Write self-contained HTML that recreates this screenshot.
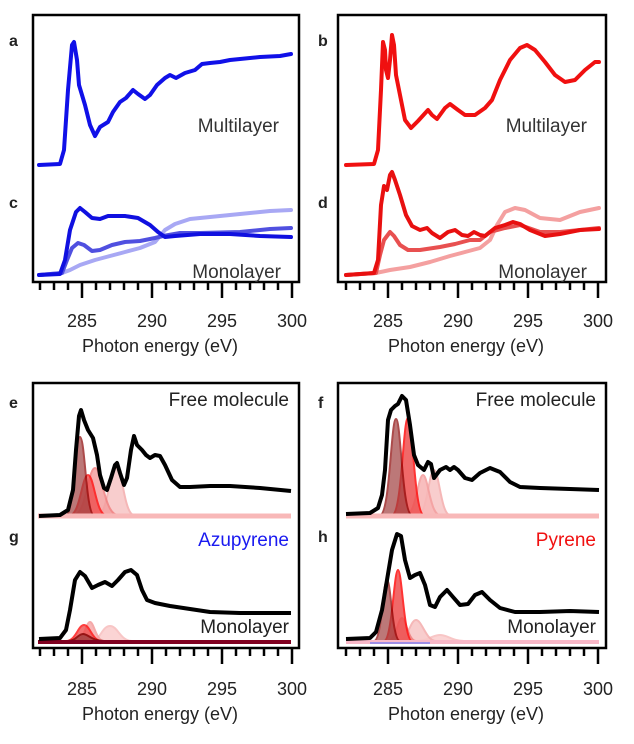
<!DOCTYPE html>
<html><head><meta charset="utf-8"><style>
html,body{margin:0;padding:0;background:#fff}
svg{display:block}
text{font-family:"Liberation Sans",Arial,sans-serif}
</style></head><body>
<svg width="634" height="744" viewBox="0 0 634 744" xmlns="http://www.w3.org/2000/svg">
<defs>
<g id="ticks" stroke="#000" stroke-width="2.5">
<path d="M40,0v8M54,0v8M68,0v8M96,0v8M110,0v8M124,0v8M138,0v8M166,0v8M180,0v8M194,0v8M208,0v8M236,0v8M250,0v8M264,0v8M278,0v8"/>
<path d="M82,0v16M152,0v16M222,0v16M292,0v16"/>
</g>
<g id="tl" font-size="18" fill="#222" text-anchor="middle">
<text x="82" y="0">285</text><text x="152" y="0">290</text><text x="222" y="0">295</text><text x="292" y="0">300</text>
<text x="160" y="25">Photon energy (eV)</text>
</g>
</defs>

<g fill="none" stroke-linejoin="round" stroke-linecap="round">
<polyline stroke="#1010e8" stroke-width="4" points="39,165 60,164 64,150 68,90 72,45 74,42 77,60 79,85 85,105 90,125 95,136 100,127 108,122 113,112 120,102 126,98 133,90 138,94 145,99 150,95 157,85 165,78 170,75 176,78 185,73 195,70 202,64 210,63 220,62 230,60 240,59 260,57 280,56 291,54"/>
<polyline stroke="#a8a8f4" stroke-width="4" points="39,275 62,273 70,270 80,265 95,260 110,256 125,252 140,248 155,242 165,230 175,224 190,219 210,217 240,214 270,211 291,210"/>
<polyline stroke="#5050e0" stroke-width="4" points="39,275 62,273 67,260 72,248 78,243 84,245 92,251 100,250 112,245 125,242 140,241 155,238 163,236 180,233 200,233 240,232 270,229 291,228"/>
<polyline stroke="#1010e0" stroke-width="4" points="39,275 60,274 65,260 70,230 76,212 80,208 85,212 92,218 100,219 108,216 115,216 125,216 138,218 150,225 158,232 165,237 175,236 200,234 230,234 260,236 291,237"/>
<polyline stroke="#f01010" stroke-width="4" points="346,165 374,164 378,150 381,90 383,42 385,50 386,70 388,78 390,60 392,35 394,45 396,75 400,95 405,120 411,128 418,121 428,110 432,115 437,119 445,108 450,104 458,110 465,115 475,115 485,108 492,100 500,80 510,60 520,48 527,45 535,50 545,62 555,75 565,82 575,80 585,70 595,62 599,62"/>
<polyline stroke="#f4a0a0" stroke-width="4" points="346,275 376,273 390,270 410,267 430,262 450,256 465,252 480,248 490,240 497,225 505,212 515,208 525,210 540,218 560,220 580,212 599,208"/>
<polyline stroke="#e85050" stroke-width="4" points="346,275 376,273 380,255 384,240 390,232 394,236 400,245 408,250 420,250 440,247 455,244 470,240 480,240 490,232 505,228 520,225 540,232 560,232 580,230 599,228"/>
<polyline stroke="#e81010" stroke-width="4" points="346,275 374,273 378,260 381,205 384,186 387,190 390,175 392,172 395,180 400,195 406,215 412,226 420,230 427,228 432,233 440,238 448,232 455,230 462,235 468,236 474,232 480,235 485,236 495,228 505,225 513,222 520,224 530,230 545,236 560,234 580,230 599,229"/>
</g>

<g stroke-width="2">
<path d="M98,515 C108,515 110,465 116,465 C122,465 124,515 134,515Z" fill="#f8c8c8" stroke="#f4b0b0" opacity="0.9"/>
<path d="M74,515 C86,515 88,468 95,468 C102,468 104,515 118,515Z" fill="#f4a0a0" stroke="#f08080" opacity="0.85"/>
<path d="M70,515 C80,515 82,475 88,475 C94,475 96,515 106,515Z" fill="#ee5050" stroke="#ff1010" opacity="0.8"/>
<path d="M66,515 C74,515 75,437 80,437 C85,437 86,515 94,515Z" fill="#a04040" stroke="#8a0000" opacity="0.7"/>
</g>
<line x1="38" y1="516" x2="291" y2="516" stroke="#f8b8b8" stroke-width="5"/>
<polyline fill="none" stroke="#000" stroke-width="4" stroke-linejoin="round" points="39,516 60,515 68,510 73,490 76,450 79,416 81,410 84,420 88,430 93,438 97,455 100,475 104,488 107,490 111,478 115,465 117,463 120,473 124,485 127,478 131,450 134,436 137,445 142,450 146,455 150,458 155,455 160,456 165,465 172,480 180,487 190,487 210,486 230,486 260,488 291,491"/>

<g stroke-width="2">
<path d="M92,641 C100,641 102,626 110,626 C118,626 120,641 132,641Z" fill="#fbd0d0" stroke="#f8c0c0" opacity="0.9"/>
<path d="M76,641 C84,641 86,622 90,622 C94,622 96,641 104,641Z" fill="#f8b0b0" stroke="#f4a0a0" opacity="0.9"/>
<path d="M66,641 C76,641 78,625 84,625 C90,625 92,641 102,641Z" fill="#ee5050" stroke="#ff1010" opacity="0.8"/>
<path d="M68,641 C76,641 78,634 83,634 C88,634 92,641 104,641Z" fill="#a04040" stroke="#800000" opacity="0.8"/>
</g>
<line x1="38" y1="642" x2="291" y2="642" stroke="#800020" stroke-width="4"/>
<polyline fill="none" stroke="#000" stroke-width="4" stroke-linejoin="round" points="39,639 60,638 66,630 70,610 75,580 80,572 85,576 92,588 98,585 105,582 112,586 118,580 125,572 131,570 137,575 142,590 147,600 155,603 170,606 190,609 210,612 240,613 291,613"/>

<g stroke-width="2">
<path d="M418,515 C427,515 429,470 434,470 C439,470 441,515 450,515Z" fill="#f8c8c8" stroke="#f4b0b0" opacity="0.9"/>
<path d="M406,515 C416,515 418,475 423,475 C428,475 430,515 440,515Z" fill="#f8b8b8" stroke="#f4a0a0" opacity="0.9"/>
<path d="M392,515 C402,515 403,418 408,418 C413,418 414,515 424,515Z" fill="#ee5050" stroke="#ff1010" opacity="0.85"/>
<path d="M380,515 C390,515 391,419 396,419 C401,419 402,515 412,515Z" fill="#a04040" stroke="#8a0000" opacity="0.7"/>
</g>
<line x1="346" y1="516" x2="599" y2="516" stroke="#f8b8b8" stroke-width="5"/>
<polyline fill="none" stroke="#000" stroke-width="4" stroke-linejoin="round" points="346,514 370,513 378,508 382,495 385,470 388,420 391,410 395,406 398,404 402,396 406,400 410,425 414,455 418,465 424,470 428,462 431,464 434,478 440,470 446,467 450,470 454,467 458,470 465,478 472,480 480,473 490,468 500,472 510,482 520,487 540,488 570,489 599,490"/>

<g stroke-width="2">
<path d="M416,641 C428,641 432,635 440,635 C448,635 452,641 464,641Z" fill="#fbd0d0" stroke="#f8c0c0" opacity="0.9"/>
<path d="M398,641 C408,641 410,620 416,620 C422,620 426,641 436,641Z" fill="#f8c8c8" stroke="#f4b0b0" opacity="0.9"/>
<path d="M388,641 C396,641 398,618 402,618 C406,618 408,641 416,641Z" fill="#f4a0a0" stroke="#f08080" opacity="0.9"/>
<path d="M384,641 C392,641 394,570 398,570 C402,570 404,641 412,641Z" fill="#ee5050" stroke="#ff1010" opacity="0.85"/>
<path d="M374,641 C382,641 383,580 387,580 C391,580 392,641 400,641Z" fill="#a04040" stroke="#8a0000" opacity="0.7"/>
</g>
<line x1="346" y1="642" x2="599" y2="642" stroke="#f8b8c8" stroke-width="4"/>
<line x1="370" y1="643" x2="430" y2="643" stroke="#8080f0" stroke-width="1.5"/>
<polyline fill="none" stroke="#000" stroke-width="4" stroke-linejoin="round" points="346,639 370,638 376,632 382,610 387,580 392,550 397,534 401,536 405,560 410,578 415,575 420,573 425,585 430,605 435,607 440,597 447,590 453,597 460,605 468,604 475,595 482,592 490,600 500,608 515,612 540,612 570,611 599,612"/>

<g fill="none" stroke="#000" stroke-width="2.5">
<rect x="33" y="15" width="266" height="267"/>
<rect x="338" y="15" width="268" height="267"/>
<rect x="33" y="383" width="266" height="265"/>
<rect x="338" y="383" width="268" height="265"/>
</g>
<use href="#ticks" x="0" y="282"/>
<use href="#ticks" x="306" y="282"/>
<use href="#ticks" x="0" y="648"/>
<use href="#ticks" x="306" y="648"/>
<use href="#tl" x="0" y="327"/>
<use href="#tl" x="306" y="327"/>
<use href="#tl" x="0" y="695"/>
<use href="#tl" x="306" y="695"/>

<g font-size="16" font-weight="bold" fill="#222">
<text x="9" y="46">a</text><text x="9" y="208">c</text>
<text x="318" y="46">b</text><text x="318" y="208">d</text>
<text x="9" y="408">e</text><text x="9" y="542">g</text>
<text x="318" y="408">f</text><text x="318" y="542">h</text>
</g>
<g font-size="19" fill="#333" text-anchor="end">
<text x="279" y="132">Multilayer</text>
<text x="281" y="278">Monolayer</text>
<text x="587" y="132">Multilayer</text>
<text x="587" y="278">Monolayer</text>
<text x="289" y="406" fill="#222">Free molecule</text>
<text x="289" y="546" fill="#1a1af0">Azupyrene</text>
<text x="289" y="633" fill="#222">Monolayer</text>
<text x="596" y="406" fill="#222">Free molecule</text>
<text x="596" y="546" fill="#f01010">Pyrene</text>
<text x="596" y="633" fill="#222">Monolayer</text>
</g>
</svg>
</body></html>
